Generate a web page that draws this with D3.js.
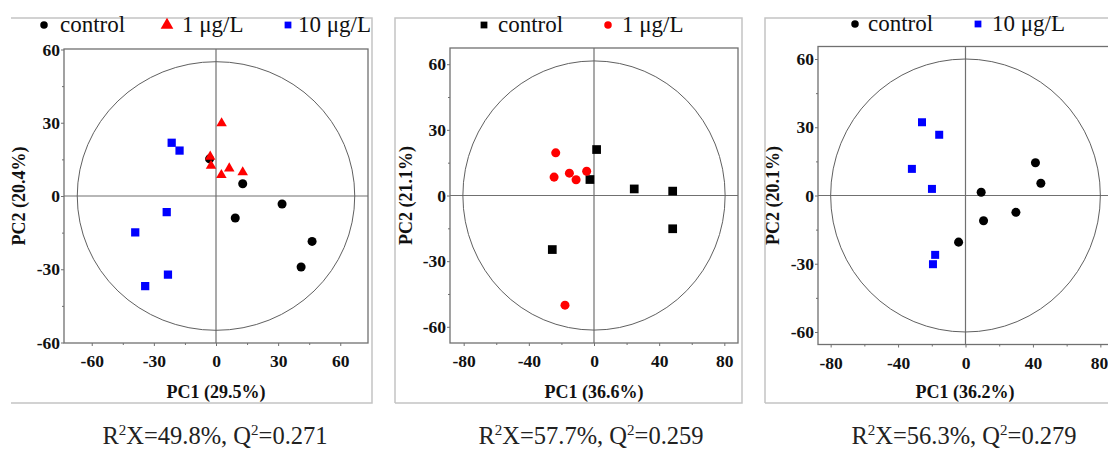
<!DOCTYPE html>
<html>
<head>
<meta charset="utf-8">
<script src="https://cdn.jsdelivr.net/npm/d3@7"></script>
<style>
  body { margin: 0; background: #fff; }
  svg text { font-family: "Liberation Serif", "Times New Roman", "DejaVu Serif", serif !important; }
</style>
</head>
<body>
<svg id="chart" width="1108" height="453"></svg>
<script>
// scores, [PC1, PC2]
var p1Control = [[-3.1, 15.2], [12.9, 5.0], [9.3, -9.0], [31.9, -3.3], [46.4, -18.6], [41.1, -29.1]];
var p1Low = [[2.7, 29.8], [-2.8, 16.1], [-2.4, 12.4], [2.6, 8.6], [6.4, 11.3], [12.9, 9.7]];
var p1High = [[-21.4, 21.8], [-17.6, 18.6], [-23.8, -6.6], [-39.0, -14.9], [-23.2, -32.2], [-34.2, -36.9]];

var p2Control = [[1.6, 21.0], [-2.5, 7.3], [24.7, 3.0], [48.3, 2.0], [48.3, -15.2], [-25.6, -24.7]];
var p2Low = [[-23.5, 19.5], [-24.5, 8.4], [-15.1, 10.2], [-11.0, 7.2], [-4.5, 11.1], [-17.8, -50.1]];

var p3Control = [[41.5, 14.4], [44.7, 5.4], [9.3, 1.4], [10.7, -11.1], [29.9, -7.4], [-4.1, -20.5]];
var p3High = [[-25.8, 32.2], [-15.6, 26.7], [-31.8, 11.7], [-19.9, 2.9], [-18.0, -26.1], [-19.3, -30.2]];

var xTitles = ["PC1 (29.5%)", "PC1 (36.6%)", "PC1 (36.2%)"];
var yTitles = ["PC2 (20.4%)", "PC2 (21.1%)", "PC2 (20.1%)"];
var r2x = ["49.8%", "57.7%", "56.3%"];
var q2 = ["0.271", "0.259", "0.279"];
var ellipseAxes = [[67, 55], [80.5, 61.5], [80, 60]];
var ticks30 = [-60, -30, 0, 30, 60];
var minor15 = [-45, -15, 15, 45];
var ticks40 = [-80, -40, 0, 40, 80];
var minor20 = [-60, -20, 20, 60];

var svg = d3.select("#chart");
var RED = "#ff0000", BLUE = "#0000ff", BLACK = "#000";

var panels = [
  {
    frame: { l: 11, t: 18, r: 372, b: 403, left: false, right: true },
    plot: { l: 64, t: 49, r: 368, b: 343 },
    xDom: [-73.4, 73.4], yDom: [-60.2, 60.2],
    xTicks: ticks30, xMinor: minor15, yTicks: ticks30, yMinor: minor15,
    yTitleX: 19, xTitleX: 216, statsX: 215,
    series: [
      { data: p1Control, shape: d3.symbolCircle, size: 64, color: BLACK, label: "control", lx: 44, tx: 60 },
      { data: p1Low, shape: d3.symbolTriangle, size: 48, color: RED, label: "1 \u03bcg/L", lx: 167, tx: 182 },
      { data: p1High, shape: d3.symbolSquare, size: 68, color: BLUE, label: "10 \u03bcg/L", lx: 288, tx: 298 }
    ],
    legendY: 25
  },
  {
    frame: { l: 395, t: 18, r: 742, b: 403, left: true, right: true },
    plot: { l: 450, t: 48, r: 738, b: 343 },
    xDom: [-88.4, 88.4], yDom: [-67.4, 67.4],
    xTicks: ticks40, xMinor: minor20, yTicks: ticks30, yMinor: minor15,
    yTitleX: 406, xTitleX: 594, statsX: 591,
    series: [
      { data: p2Control, shape: d3.symbolSquare, size: 76, color: BLACK, label: "control", lx: 484, tx: 498 },
      { data: p2Low, shape: d3.symbolCircle, size: 64, color: RED, label: "1 \u03bcg/L", lx: 608, tx: 622 }
    ],
    legendY: 25
  },
  {
    frame: { l: 765, t: 18, r: 1120, b: 403, left: true, right: false },
    plot: { l: 818, t: 46.5, r: 1113, b: 344.5 },
    xDom: [-87.5, 87.5], yDom: [-65.5, 65.5],
    xTicks: ticks40, xMinor: minor20, yTicks: ticks30, yMinor: minor15,
    yTitleX: 773, xTitleX: 965, statsX: 964,
    series: [
      { data: p3Control, shape: d3.symbolCircle, size: 64, color: BLACK, label: "control", lx: 855, tx: 868 },
      { data: p3High, shape: d3.symbolSquare, size: 64, color: BLUE, label: "10 \u03bcg/L", lx: 978, tx: 992 }
    ],
    legendY: 24
  }
];

function drawPanel(p, i) {
  var g = svg.append("g");
  var f = p.frame;

  // outer frame, light grey (panel 1 has no left side, panel 3 runs off the right)
  var framePath = "M" + (f.left ? f.l + "," + f.b + "L" + f.l + "," + f.t : f.l + "," + f.t) +
    "L" + f.r + "," + f.t + (f.right ? "L" + f.r + "," + f.b : "") +
    (f.right ? "L" : "M" + f.r + "," + f.b + "L") + f.l + "," + f.b;
  g.append("path").attr("d", framePath)
    .attr("fill", "none").attr("stroke", "#c4c4c4").attr("stroke-width", 1.5);

  var x = d3.scaleLinear().domain(p.xDom).range([p.plot.l, p.plot.r]);
  var y = d3.scaleLinear().domain(p.yDom).range([p.plot.b, p.plot.t]);

  // plot box
  g.append("rect")
    .attr("x", p.plot.l).attr("y", p.plot.t)
    .attr("width", p.plot.r - p.plot.l).attr("height", p.plot.b - p.plot.t)
    .attr("fill", "none").attr("stroke", "#707070").attr("stroke-width", 1.3);

  // zero lines
  g.append("line").attr("x1", x(0)).attr("x2", x(0)).attr("y1", p.plot.t).attr("y2", p.plot.b)
    .attr("stroke", "#707070").attr("stroke-width", 1.2);
  g.append("line").attr("x1", p.plot.l).attr("x2", p.plot.r).attr("y1", y(0)).attr("y2", y(0))
    .attr("stroke", "#707070").attr("stroke-width", 1.2);

  // Hotelling ellipse
  var ea = ellipseAxes[i];
  g.append("ellipse")
    .attr("cx", x(0)).attr("cy", y(0))
    .attr("rx", x(ea[0]) - x(0)).attr("ry", y(0) - y(ea[1]))
    .attr("fill", "none").attr("stroke", "#606060").attr("stroke-width", 1);

  // axes
  var fmt = function (d) { return String(d); };
  var xAxis = g.append("g").attr("transform", "translate(0," + p.plot.b + ")")
    .call(d3.axisBottom(x).tickValues(p.xTicks).tickFormat(fmt).tickSize(3).tickPadding(9));
  var yAxis = g.append("g").attr("transform", "translate(" + p.plot.l + ",0)")
    .call(d3.axisLeft(y).tickValues(p.yTicks).tickFormat(fmt).tickSize(3).tickPadding(1));
  g.append("g").attr("transform", "translate(0," + p.plot.b + ")")
    .call(d3.axisBottom(x).tickValues(p.xMinor).tickFormat("").tickSize(2))
    .select(".domain").remove();
  g.append("g").attr("transform", "translate(" + p.plot.l + ",0)")
    .call(d3.axisLeft(y).tickValues(p.yMinor).tickFormat("").tickSize(2))
    .select(".domain").remove();
  [xAxis, yAxis].forEach(function (a) {
    a.select(".domain").remove();
    a.selectAll(".tick text")
      .attr("font-size", 17.5).attr("font-weight", "bold").attr("fill", "#111");
  });
  g.selectAll("g.tick line").attr("stroke", "#707070");
  // last label of a panel that runs off the page: keep it inside, as the picture does
  xAxis.selectAll(".tick text")
    .filter(function (d) { return x(d) > 1090; })
    .attr("text-anchor", "end").attr("dx", 7.5);

  // axis titles
  g.append("text").attr("x", p.xTitleX)
    .attr("y", 398).attr("text-anchor", "middle")
    .attr("font-size", 18).attr("font-weight", "bold").attr("fill", "#111")
    .text(xTitles[i]);
  g.append("text")
    .attr("transform", "translate(" + (p.yTitleX + 6) + "," + y(0) + ") rotate(-90)")
    .attr("text-anchor", "middle")
    .attr("font-size", 18).attr("font-weight", "bold").attr("fill", "#111")
    .text(yTitles[i]);

  // points
  p.series.forEach(function (s) {
    g.selectAll(null).data(s.data).enter().append("path")
      .attr("d", d3.symbol().type(s.shape).size(s.size))
      .attr("transform", function (d) { return "translate(" + x(d[0]) + "," + y(d[1]) + ")"; })
      .attr("fill", s.color);
  });

  // legend
  p.series.forEach(function (s) {
    var ls = s.shape === d3.symbolTriangle ? 70 : (s.shape === d3.symbolCircle ? 44 : 46);
    g.append("path")
      .attr("d", d3.symbol().type(s.shape).size(ls))
      .attr("transform", "translate(" + s.lx + "," + p.legendY + ")")
      .attr("fill", s.color);
    g.append("text").attr("x", s.tx).attr("y", p.legendY + 7)
      .attr("font-size", 23).attr("fill", "#111")
      .text(s.label);
  });

  // model statistics
  var st = svg.append("text").attr("x", p.statsX).attr("y", 444)
    .attr("text-anchor", "middle").attr("font-size", 24.5).attr("fill", "#222");
  st.append("tspan").text("R");
  st.append("tspan").attr("font-size", 15).attr("dy", -9).text("2");
  st.append("tspan").attr("dy", 9).text("X=" + r2x[i] + ", Q");
  st.append("tspan").attr("font-size", 15).attr("dy", -9).text("2");
  st.append("tspan").attr("dy", 9).text("=" + q2[i]);
}

panels.forEach(drawPanel);
</script>
</body>
</html>
